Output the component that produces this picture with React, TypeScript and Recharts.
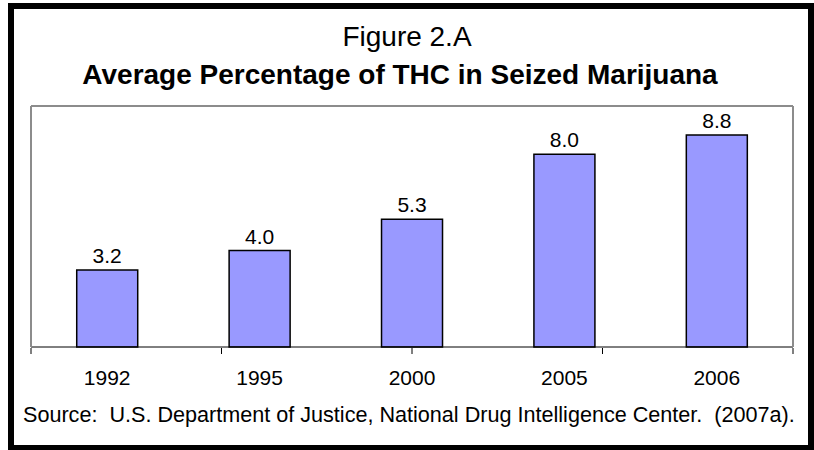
import React from 'react';
import { BarChart, Bar, XAxis, YAxis, LabelList } from 'recharts';

const years = ['1992', '1995', '2000', '2005', '2006'];
const thcPercent = [3.2, 4.0, 5.3, 8.0, 8.8];
const edgeTicks = [0, 1, 2, 3, 4, 5];

const data = years.map((year, i) => ({ year, value: thcPercent[i] }));

const FONT = '"Liberation Sans", Arial, sans-serif';
const FRAME = { stroke: '#8c8c8c', strokeWidth: 2 };

const NoTick = () => <g />;

export default function App() {
  return (
    <div style={{ position: 'absolute', left: 0, top: 0, width: 814, height: 450, background: '#fff', fontFamily: FONT }}>
      <div
        style={{
          position: 'absolute',
          left: 8,
          top: 3,
          width: 806,
          height: 448,
          border: '6px solid #000',
          boxSizing: 'border-box',
        }}
      />
      <div style={{ position: 'absolute', left: 0, width: 814, top: 21, textAlign: 'center', fontSize: 28, lineHeight: '32px' }}>
        Figure 2.A
      </div>
      <div style={{ position: 'absolute', left: 0, width: 800, top: 59, textAlign: 'center', fontSize: 28, fontWeight: 'bold', lineHeight: '32px' }}>
        Average Percentage of THC in Seized Marijuana
      </div>
      <div style={{ position: 'absolute', left: 23, top: 403, fontSize: 21.6, lineHeight: '24px', whiteSpace: 'pre' }}>
        {'Source:  U.S. Department of Justice, National Drug Intelligence Center.  (2007a).'}
      </div>
      <div style={{ position: 'absolute', left: 0, top: 0 }}>
        <BarChart
          width={814}
          height={450}
          data={data}
          margin={{ top: 105, right: 20, bottom: 54, left: 30 }}
          barCategoryGap="30%"
        >
          <XAxis
            dataKey="year"
            axisLine={{ stroke: '#000', strokeWidth: 1 }}
            tickLine={false}
            tickSize={0}
            tickMargin={23}
            height={1}
            interval={0}
            tick={{ fill: '#000', fontSize: 21, fontFamily: FONT }}
          />
          <XAxis
            xAxisId="edges"
            type="number"
            domain={[0, 5]}
            allowDataOverflow
            ticks={edgeTicks}
            tick={<NoTick />}
            tickSize={6}
            height={48}
            axisLine={false}
            tickLine={{ stroke: '#000', strokeWidth: 1 }}
          />
          <XAxis xAxisId="top" orientation="top" dataKey="year" tick={false} tickLine={false} height={1} axisLine={FRAME} />
          <YAxis domain={[0, 10]} tick={false} tickLine={false} width={1} axisLine={FRAME} />
          <YAxis yAxisId="right" orientation="right" domain={[0, 10]} tick={false} tickLine={false} width={1} axisLine={FRAME} />
          <Bar dataKey="value" fill="#9999ff" stroke="#000" strokeWidth={1.5} isAnimationActive={false}>
            <LabelList
              dataKey="value"
              position="top"
              offset={7}
              formatter={(v: number) => v.toFixed(1)}
              style={{ fill: '#000', fontSize: 21, fontFamily: FONT }}
            />
          </Bar>
        </BarChart>
      </div>
    </div>
  );
}
